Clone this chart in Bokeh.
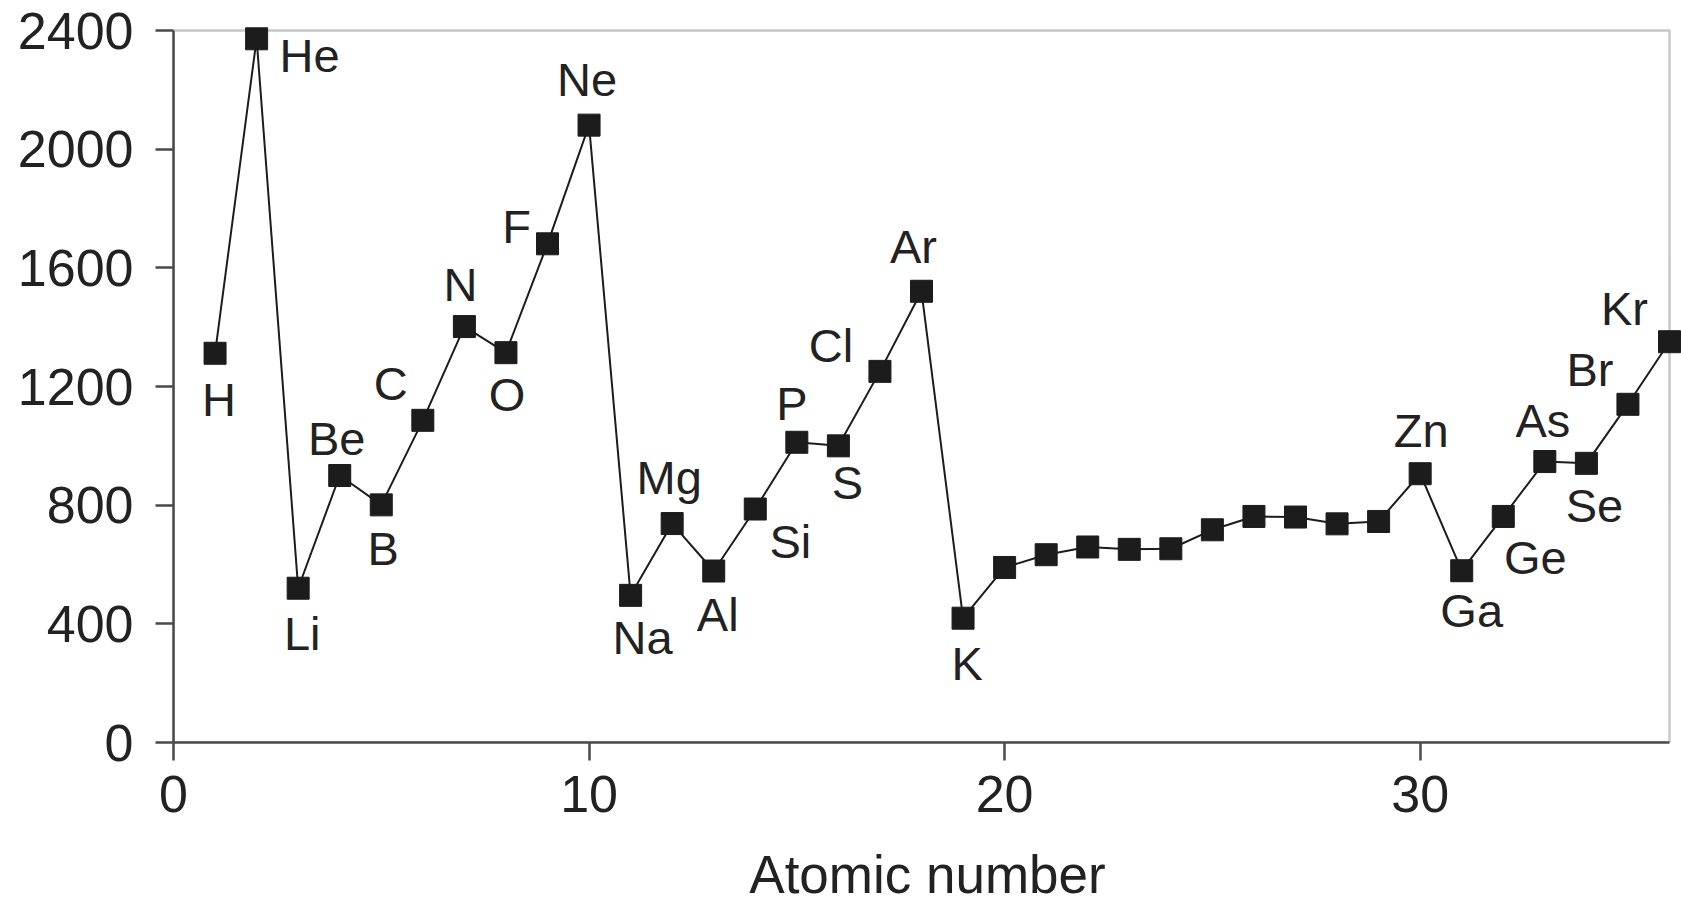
from bokeh.plotting import figure
from bokeh.models import ColumnDataSource, FixedTicker, BoxAnnotation
from bokeh.core.properties import value
from bokeh.embed import file_html
from bokeh.resources import INLINE

# ---- data ----
atomic_number = [1, 2, 3, 4, 5, 6, 7, 8, 9, 10, 11, 12, 13, 14, 15, 16, 17, 18,
                 19, 20, 21, 22, 23, 24, 25, 26, 27, 28, 29, 30, 31, 32, 33, 34, 35, 36]
symbol = ["H", "He", "Li", "Be", "B", "C", "N", "O", "F", "Ne", "Na", "Mg", "Al", "Si",
          "P", "S", "Cl", "Ar", "K", "Ca", "Sc", "Ti", "V", "Cr", "Mn", "Fe", "Co",
          "Ni", "Cu", "Zn", "Ga", "Ge", "As", "Se", "Br", "Kr"]
ionization_energy = [1312, 2372, 520, 900, 801, 1086, 1402, 1314, 1681, 2081, 496, 738,
                     578, 787, 1012, 1000, 1251, 1521, 419, 590, 633, 659, 651, 653,
                     717, 762, 760, 737, 745, 906, 579, 762, 947, 941, 1140, 1351]
x_ticks = [0, 10, 20, 30]
y_ticks = [0, 400, 800, 1200, 1600, 2000, 2400]
x_limits = (0, 36)
y_limits = (0, 2400)

# ---- label placement (pixel offsets from the marker; layout only) ----
label_offset = {
    "H": (4, 46), "He": (53, 17), "Li": (4, 45), "Be": (-3, -37), "B": (2, 44),
    "C": (-32, -37), "N": (-4, -42), "O": (1, 42), "F": (-31, -17), "Ne": (-2, -46),
    "Na": (12, 42), "Mg": (-3, -46), "Al": (4, 43), "Si": (35, 32), "P": (-5, -39),
    "S": (9, 37), "Cl": (-49, -26), "Ar": (-8, -45), "K": (4, 45), "Zn": (1, -43),
    "Ga": (10, 40), "Ge": (32, 41), "As": (-2, -41), "Se": (8, 42), "Br": (-38, -35),
    "Kr": (-45, -33),
}

lab_x, lab_y, lab_t, lab_dx, lab_dy = [], [], [], [], []
for z, s, e in zip(atomic_number, symbol, ionization_energy):
    if s in label_offset:
        dx, dy = label_offset[s]
        lab_x.append(z); lab_y.append(e); lab_t.append(s)
        lab_dx.append(dx); lab_dy.append(dy)

src = ColumnDataSource(dict(x=atomic_number, y=ionization_energy))
lab_src = ColumnDataSource(dict(x=lab_x, y=lab_y, t=lab_t, dx=lab_dx, dy=lab_dy))

FONT = "Liberation Sans"
INK = "#1c1c1c"
AXIS = "#4a4a4a"

# plot box is 1496 x 712 px for the axis limits; a little extra room is left
# at the top/right so the edge markers are not cut by the frame
BOX_W, BOX_H = 1496, 712
PAD_R, PAD_T = 12, 12
x_end = x_limits[1] * (BOX_W + PAD_R) / BOX_W
y_end = y_limits[1] * (BOX_H + PAD_T) / BOX_H

p = figure(frame_width=BOX_W + PAD_R, frame_height=BOX_H + PAD_T,
           x_range=(x_limits[0], x_end), y_range=(y_limits[0], y_end),
           output_backend="svg", toolbar_location=None,
           min_border_left=173, min_border_top=18, min_border_right=0,
           min_border_bottom=160)
p.background_fill_color = "white"
p.border_fill_color = "white"
p.outline_line_color = None
p.xgrid.visible = False
p.ygrid.visible = False

box = BoxAnnotation(left=x_limits[0], right=x_limits[1], bottom=y_limits[0], top=y_limits[1],
                    fill_alpha=0, fill_color=None, line_color=AXIS, line_width=2.5,
                    level="underlay")
p.add_layout(box)

for ax in (p.xaxis[0], p.yaxis[0]):
    ax.axis_line_color = AXIS
    ax.axis_line_width = 2.5
    ax.major_tick_line_color = AXIS
    ax.major_tick_line_width = 2.5
    ax.major_tick_out = 18
    ax.major_tick_in = 0
    ax.minor_tick_line_color = None
    ax.major_label_text_font = FONT
    ax.major_label_text_font_size = "52px"
    ax.major_label_text_color = "#222222"

p.xaxis.bounds = x_limits
p.yaxis.bounds = y_limits
p.xaxis.ticker = FixedTicker(ticks=x_ticks)
p.yaxis.ticker = FixedTicker(ticks=y_ticks)
p.xaxis.major_label_standoff = 15
p.yaxis.major_label_standoff = 22
p.xaxis.axis_label = "Atomic number"
p.xaxis.axis_label_text_font = FONT
p.xaxis.axis_label_text_font_size = "53px"
p.xaxis.axis_label_text_font_style = "normal"
p.xaxis.axis_label_text_color = "#222222"
p.xaxis.axis_label_standoff = 30

p.line("x", "y", source=src, line_color=INK, line_width=2)
p.scatter("x", "y", source=src, marker="square", size=22,
          fill_color=INK, line_color=INK)

p.text("x", "y", text="t", source=lab_src, x_offset="dx", y_offset="dy",
       text_align="center", text_baseline="middle",
       text_font=value(FONT), text_font_size="47px", text_color="#222222")

open("out.html", "w").write(file_html(p, INLINE))
